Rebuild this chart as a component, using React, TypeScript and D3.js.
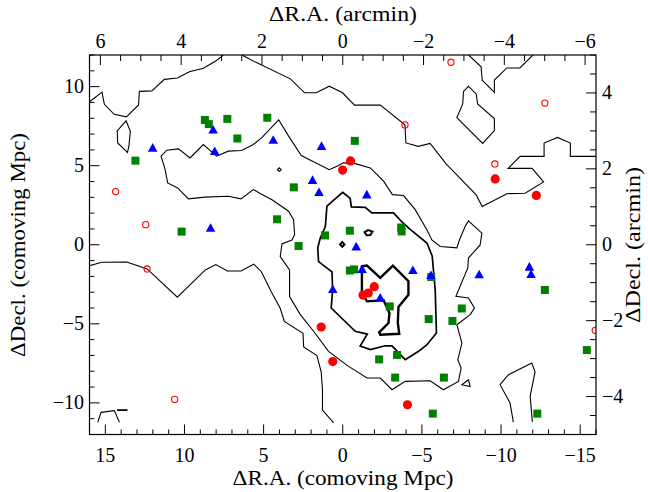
import React from "react";
import * as d3 from "d3";

type P = [number, number];

// ---------- marker data (comoving Mpc) ----------
const greenSquares: P[] = [
  [8.71, 7.89], [8.46, 7.63], [7.29, 7.96], [6.66, 6.72], [4.77, 8.03], [13.1, 5.32],
  [10.18, 0.83], [-0.76, 6.57], [3.09, 3.63], [4.15, 1.61], [-0.45, 0.89], [1.12, 0.59],
  [-3.69, 1.09], [-3.72, 0.84], [2.79, -0.08], [-0.45, -1.63], [-0.71, -1.56], [-2.97, -3.9],
  [-2.3, -7.25], [-3.43, -6.97], [-3.31, -8.4], [-5.59, -2.04], [-5.43, -4.7], [-6.93, -4.82],
  [-7.52, -4.03], [-12.77, -2.86], [-15.42, -6.66], [-6.39, -8.4], [-5.69, -10.68], [-12.29, -10.68],
];
const blueTriangles: P[] = [
  [8.19, 7.3], [8.09, 5.94], [12.01, 6.16], [8.35, 1.09], [4.39, 6.66], [1.34, 6.27],
  [1.91, 4.12], [1.5, 3.35], [-1.52, 3.2], [-0.85, -0.09], [-1.22, -1.52], [0.63, -2.78],
  [-2.37, -3.32], [-4.43, -1.58], [-5.57, -1.9], [-8.62, -1.85], [-11.79, -1.37], [-11.9, -1.83],
];
const redFilled: P[] = [
  [-0.49, 5.3], [0.01, 4.72], [-9.63, 4.16], [-12.23, 3.12], [-1.99, -2.65], [-1.61, -3.05],
  [-1.28, -3.18], [1.36, -5.2], [0.63, -7.39], [-4.09, -10.12],
];
const redOpen: P[] = [
  [14.35, 3.36], [12.45, 1.27], [12.36, -1.53], [10.62, -9.78], [-3.93, 7.58], [-6.84, 11.54],
  [-12.77, 8.96], [-9.61, 5.11], [-15.95, -5.41],
];

// ---------- contour data (comoving Mpc) ----------
const contourTopOuter: P[] = [
  [16.0, 9.04], [15.21, 9.65], [15.06, 8.88], [14.44, 8.25], [13.67, 8.09], [12.9, 8.84],
  [12.85, 9.7], [12.06, 9.73], [11.27, 10.46], [10.45, 10.54], [9.69, 10.94], [8.81, 11.16],
  [8.05, 11.6], [7.67, 11.89], [7.29, 12.27], [6.66, 12.27], [6.28, 11.95], [5.52, 11.55],
  [3.31, 10.49], [2.41, 9.61], [1.67, 9.61], [0.85, 10.03], [0.01, 9.61], [-0.74, 8.83],
  [-2.37, 8.83], [-3.93, 7.58], [-3.99, 6.44], [-4.77, 6.22], [-5.52, 6.41], [-6.53, 5.11],
  [-8.43, 3.15], [-8.81, 2.42], [-10.37, 3.23], [-11.52, 3.26], [-12.69, 3.97], [-11.96, 4.83],
  [-10.45, 4.83], [-11.21, 5.59], [-12.72, 5.59], [-12.72, 6.43], [-13.57, 6.79], [-14.38, 6.43],
  [-14.38, 5.59], [-16.05, 5.59],
];
const contourTopBump: P[] = [
  [-7.8, 12.33], [-7.94, 12.01], [-8.74, 11.25], [-8.81, 10.41], [-9.58, 9.64], [-9.58, 10.42],
  [-10.37, 11.18], [-11.19, 11.18], [-12.03, 12.01], [-12.28, 12.33],
];
const contourLoopNE: P[] = [
  [-7.94, 10.02], [-8.43, 9.54], [-8.52, 8.91], [-9.58, 7.98], [-9.58, 7.22], [-8.84, 6.41],
  [-7.21, 8.04], [-7.58, 8.91], [-7.63, 9.7],
];
const contourLoopNW: P[] = [
  [13.69, 7.84], [13.42, 7.17], [13.51, 6.25], [13.6, 5.84], [14.22, 6.44], [14.25, 7.2],
];
const contourWest: P[] = [
  [16.05, -1.34], [15.23, -1.11], [13.65, -1.09], [12.36, -1.53], [10.45, -3.32], [8.68, -1.59],
  [8.02, -1.25], [7.29, -1.66], [6.43, -1.66], [5.62, -1.23], [5.15, -1.69], [4.51, -2.99],
  [3.95, -4.02], [3.69, -4.85], [2.51, -5.6], [2.47, -6.47], [1.63, -7.01], [1.36, -8.05],
  [1.28, -9.19], [1.28, -10.46], [0.58, -11.26],
];
const contourMain: P[] = [
  [4.05, 7.9], [3.42, 6.87], [2.62, 5.64], [0.85, 4.75], [0.37, 4.97], [-0.05, 5.18],
  [-0.79, 5.13], [-1.74, 4.86], [-2.58, 4.02], [-3.14, 3.17], [-3.84, 3.11], [-4.58, 2.22],
  [-5.32, 0.94], [-5.63, 0.3], [-6.16, -0.11], [-7.21, -0.2], [-7.37, 0.3], [-7.73, 1.15],
  [-7.94, 1.51], [-8.79, 0.73], [-8.68, -0.01], [-7.94, -0.84], [-7.9, -1.47], [-7.15, -3.26],
  [-7.94, -3.37], [-8.32, -4.0], [-8.05, -4.42], [-7.21, -5.06], [-7.53, -6.22], [-7.27, -7.27],
  [-7.48, -7.8], [-7.31, -8.64], [-6.36, -9.17], [-5.52, -8.6], [-3.95, -8.64], [-3.11, -9.17],
  [-2.37, -8.43], [-1.53, -8.43], [-0.37, -7.69], [0.9, -6.74], [1.84, -5.47], [2.68, -4.42],
  [3.36, -3.28], [3.36, -1.59], [3.95, -0.75], [3.84, 0.05], [3.21, 0.3], [3.04, 0.64],
  [3.11, 1.59], [3.42, 2.12], [4.47, 2.85], [5.19, 3.23], [5.65, 3.49], [6.43, 2.9],
  [7.23, 3.07], [8.7, 3.01], [9.75, 2.9], [10.43, 3.59], [11.06, 3.91], [11.22, 4.75],
  [11.48, 5.6], [11.12, 5.98], [10.38, 6.06], [9.65, 5.49], [8.81, 6.34], [7.97, 5.6],
  [7.23, 5.92], [6.39, 5.96], [5.65, 6.34], [5.13, 6.76],
];
const contourMid: P[] = [
  [0.01, 3.32], [-0.47, 2.93], [-0.54, 2.39], [-1.42, 2.36], [-1.84, 2.01], [-3.21, 2.01],
  [-3.74, 1.44], [-4.26, 0.97], [-5.32, 0.11], [-5.65, -0.71], [-5.84, -2.84], [-5.92, -5.58],
  [-5.32, -6.32], [-4.79, -6.74], [-3.95, -7.27], [-3.11, -6.39], [-2.68, -6.39], [-1.74, -6.63],
  [-1.1, -6.41], [-1.55, -5.65], [-0.79, -5.47], [0.73, -4.0], [0.64, -2.86], [0.68, -1.72],
  [1.53, -1.07], [1.58, -0.2], [1.42, 0.43], [1.1, 1.15], [1.0, 2.44],
];
const contourInner: P[] = [
  [-1.21, -1.36], [-1.53, -1.32], [-2.37, -2.1], [-3.17, -1.32], [-4.15, -2.31], [-4.15, -3.16],
  [-3.52, -3.94], [-3.48, -4.95], [-3.57, -5.63], [-2.37, -5.69], [-2.3, -5.54], [-2.89, -4.95],
  [-2.95, -4.32], [-2.58, -3.51], [-1.53, -3.58], [-1.21, -3.05],
];
const contourSE: P[] = [
  [-10.78, -11.22], [-10.57, -10.01], [-9.94, -8.85], [-10.47, -8.22], [-11.94, -7.48],
  [-12.15, -8.03], [-11.84, -9.59], [-11.98, -11.22],
];
const contourSmallTri: P[] = [[-7.53, -8.85], [-7.94, -8.54], [-8.05, -8.96]];
const contourSW: P[] = [[15.48, -11.23], [15.27, -10.6], [14.43, -10.49], [14.11, -11.23]];
const contourSWMid: P[] = [[14.26, -10.46], [13.6, -10.46]];
const contourDotA: P[] = [[4.13, 4.75], [4.01, 4.87], [3.89, 4.75], [4.01, 4.63]];
const contourDotB: P[] = [[0.17, 0.02], [0.03, 0.17], [-0.11, 0.02], [0.03, -0.13]];
const contourDotC: P[] = [[-1.38, 0.8], [-1.6, 0.93], [-1.88, 0.84], [-1.74, 0.62], [-1.5, 0.6]];

// ---------- axis ticks ----------
const xMajor = [15, 10, 5, 0, -5, -10, -15];
const yMajor = [-10, -5, 0, 5, 10];
const arcXMajor = [6, 4, 2, 0, -2, -4, -6];
const arcYMajor = [-4, -2, 0, 2, 4];

const L = 89.5, R = 596, T = 55, B = 434.5;

const fmt = (v: number) => (v < 0 ? "\u2212" + Math.abs(v) : String(v));

export default function App() {
  const x = d3.scaleLinear().domain([16, -16]).range([L, R]);
  const y = d3.scaleLinear().domain([-12, 12]).range([B, T]);
  const xa = d3.scaleLinear().domain([6.27, -6.27]).range([L, R]);
  const ya = d3.scaleLinear().domain([-5.0, 5.0]).range([B, T]);
  const line = d3.line<P>().x((d) => x(d[0])).y((d) => y(d[1]));

  const xMinor = d3.range(-16, 17, 1);
  const yMinor = d3.range(-12, 13, 1);
  const axMinor = d3.range(-6, 6.01, 0.5);
  const ayMinor = d3.range(-5, 5.01, 0.5);

  const contours: { d: P[]; closed: boolean; w: number }[] = [
    { d: contourTopOuter, closed: false, w: 1.1 },
    { d: contourTopBump, closed: false, w: 1.1 },
    { d: contourLoopNE, closed: true, w: 1.1 },
    { d: contourLoopNW, closed: true, w: 1.1 },
    { d: contourWest, closed: false, w: 1.1 },
    { d: contourMain, closed: true, w: 1.1 },
    { d: contourSE, closed: false, w: 1.1 },
    { d: contourSmallTri, closed: true, w: 1.1 },
    { d: contourSW, closed: false, w: 1.1 },
    { d: contourDotA, closed: true, w: 1.1 },
    { d: contourMid, closed: true, w: 1.7 },
    { d: contourSWMid, closed: false, w: 1.7 },
    { d: contourInner, closed: true, w: 2.4 },
    { d: contourDotB, closed: true, w: 2.0 },
    { d: contourDotC, closed: true, w: 2.0 },
  ];

  const font = "'Liberation Serif', 'Times New Roman', serif";
  const tri = (cx: number, cy: number) =>
    `M${cx},${cy - 4.3}L${cx + 4.8},${cy + 4.3}L${cx - 4.8},${cy + 4.3}Z`;

  return (
    <svg width={648} height={492} style={{ position: "absolute", left: 0, top: 0, background: "#fff" }}>
      <defs>
        <clipPath id="plotclip">
          <rect x={L} y={T} width={R - L} height={B - T} />
        </clipPath>
      </defs>
      <rect x={0} y={0} width={648} height={492} fill="#fff" />
      <g clipPath="url(#plotclip)">
        {contours.map((c, i) => (
          <path key={i} d={(line(c.d) || "") + (c.closed ? "Z" : "")} fill="none" stroke="#000" strokeWidth={c.w} strokeLinejoin="miter" />
        ))}
        {greenSquares.map((p, i) => (
          <rect key={"g" + i} x={x(p[0]) - 4} y={y(p[1]) - 4} width={8} height={8} fill="#008000" />
        ))}
        {blueTriangles.map((p, i) => (
          <path key={"b" + i} d={tri(x(p[0]), y(p[1]))} fill="#0000ff" />
        ))}
        {redFilled.map((p, i) => (
          <circle key={"r" + i} cx={x(p[0])} cy={y(p[1])} r={4.6} fill="#ff0000" />
        ))}
        {redOpen.map((p, i) => (
          <circle key={"o" + i} cx={x(p[0])} cy={y(p[1])} r={3.1} fill="none" stroke="#ff0000" strokeWidth={1.1} />
        ))}
      </g>
      {/* ticks */}
      <g stroke="#000" strokeWidth={1}>
        {xMinor.map((v) => {
          const maj = v % 5 === 0;
          const len = maj ? 10 : 5;
          return <line key={"bx" + v} x1={x(v)} x2={x(v)} y1={B} y2={B - len} />;
        })}
        {yMinor.map((v) => {
          const maj = v % 5 === 0;
          const len = maj ? 10 : 5;
          return <line key={"ly" + v} x1={L} x2={L + len} y1={y(v)} y2={y(v)} />;
        })}
        {axMinor.map((v) => {
          const maj = Math.abs(v % 2) < 1e-6;
          const len = maj ? 10 : 6;
          return <line key={"tx" + v} x1={xa(v)} x2={xa(v)} y1={T} y2={T + len} />;
        })}
        {ayMinor.map((v) => {
          const maj = Math.abs(v % 2) < 1e-6;
          const len = maj ? 10 : 6;
          return <line key={"ry" + v} x1={R} x2={R - len} y1={ya(v)} y2={ya(v)} />;
        })}
      </g>
      <rect x={L} y={T} width={R - L} height={B - T} fill="none" stroke="#000" strokeWidth={1.2} />
      {/* tick labels */}
      <g fontFamily={font} fontSize={20} fill="#000">
        {xMajor.map((v) => (
          <text key={"xl" + v} x={x(v)} y={462} textAnchor="middle">{fmt(v)}</text>
        ))}
        {yMajor.map((v) => (
          <text key={"yl" + v} x={84} y={y(v) + 6.5} textAnchor="end">{fmt(v)}</text>
        ))}
        {arcXMajor.map((v) => (
          <text key={"al" + v} x={xa(v)} y={48} textAnchor="middle">{fmt(v)}</text>
        ))}
        {arcYMajor.map((v) => (
          <text key={"ar" + v} x={602} y={ya(v) + 6.5} textAnchor="start">{fmt(v)}</text>
        ))}
      </g>
      {/* axis titles */}
      <g fontFamily={font} fontSize={21} fill="#000">
        <text x={343} y={485} textAnchor="middle" textLength={221} lengthAdjust="spacingAndGlyphs">ΔR.A. (comoving Mpc)</text>
        <text x={343} y={21} textAnchor="middle" textLength={148} lengthAdjust="spacingAndGlyphs">ΔR.A. (arcmin)</text>
        <text transform="translate(25,245) rotate(-90)" textAnchor="middle" textLength={224} lengthAdjust="spacingAndGlyphs">ΔDecl. (comoving Mpc)</text>
        <text transform="translate(640,245) rotate(-90)" textAnchor="middle" textLength={156} lengthAdjust="spacingAndGlyphs">ΔDecl. (arcmin)</text>
      </g>
    </svg>
  );
}
